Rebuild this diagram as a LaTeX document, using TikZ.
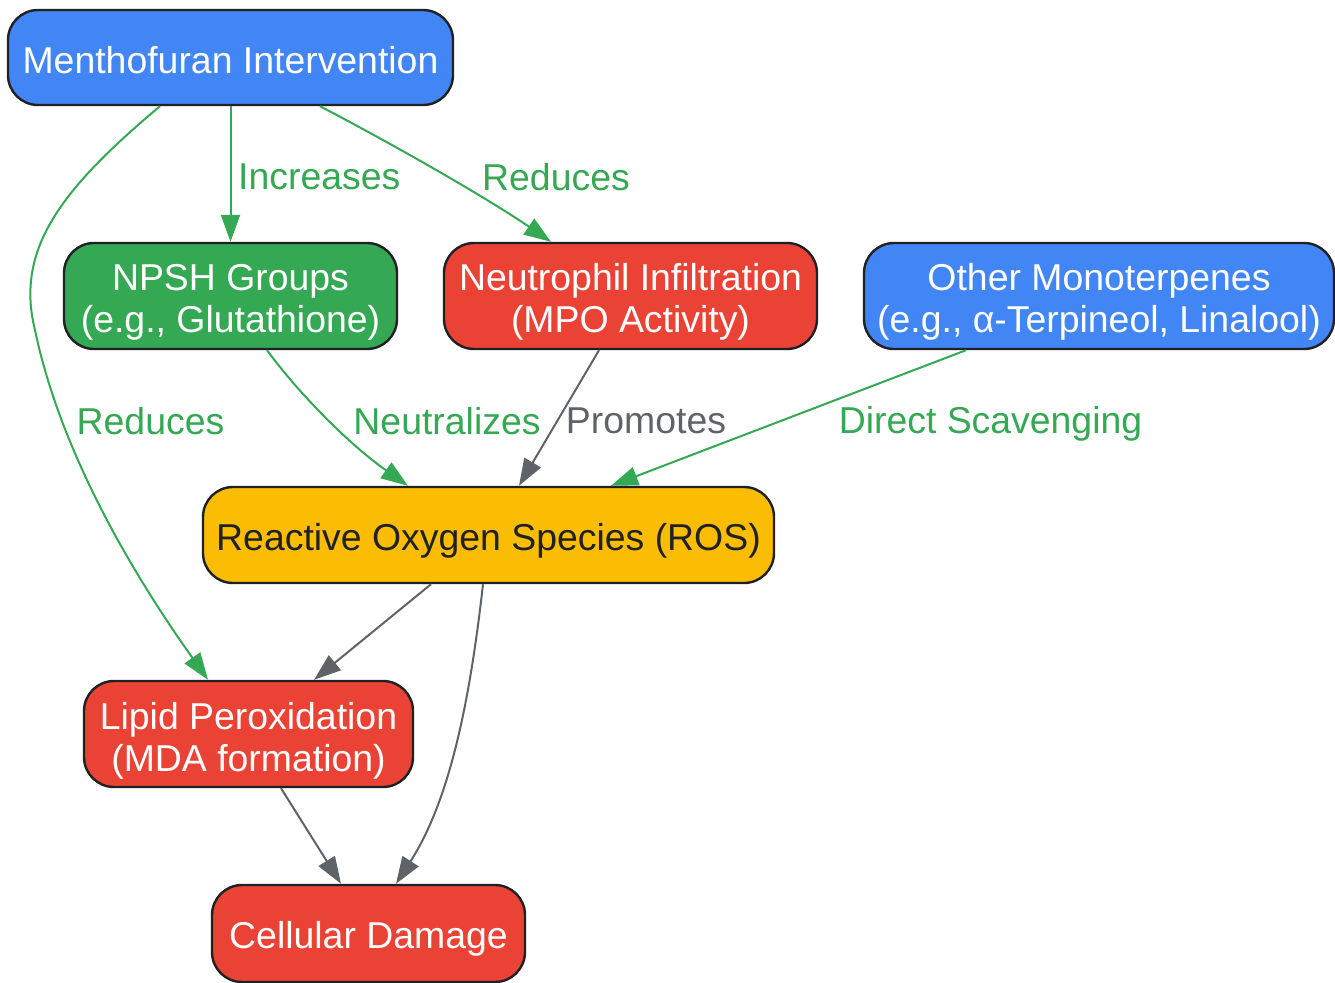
\documentclass[tikz,border=0pt]{standalone}
\usepackage{fontspec}
\setmainfont{Liberation Sans}
\usetikzlibrary{arrows.meta}
\definecolor{gblue}{HTML}{4285F4}
\definecolor{ggreen}{HTML}{34A853}
\definecolor{gred}{HTML}{EA4335}
\definecolor{gyellow}{HTML}{FBBC04}
\definecolor{ggray}{HTML}{5F6368}
\definecolor{gdark}{HTML}{202124}
\newcommand{\lowtx}[2]{\raisebox{-#1}[\height][\depth]{\begin{tabular}{@{}c@{}}#2\end{tabular}}}
\tikzset{
  box/.style={draw=gdark, line width=2.4pt, rounded corners=30pt, inner sep=0pt,
    align=center, font=\fontsize{37.4}{42}\selectfont, text=white},
  greenedge/.style={draw=ggreen, line width=2pt, -{Triangle[length=27pt,width=19pt]}},
  grayedge/.style={draw=ggray, line width=2pt, -{Triangle[length=27pt,width=19pt]}},
  elabel/.style={font=\fontsize{37.4}{42}\selectfont, inner sep=0pt},
}
\begin{document}
\begin{tikzpicture}[x=1pt,y=-1pt]
\useasboundingbox (0,0) rectangle (1335,982);
\node[box, fill=gblue, minimum width=445pt, minimum height=95pt] (mi) at (230.5,57.5) {\lowtx{8pt}{Menthofuran Intervention}};
\node[box, fill=ggreen, minimum width=333pt, minimum height=106pt] (npsh) at (230.5,296) {\lowtx{7pt}{NPSH Groups\\(e.g., Glutathione)}};
\node[box, fill=gred, minimum width=373pt, minimum height=106pt] (neu) at (630.5,296) {\lowtx{7pt}{Neutrophil Infiltration\\(MPO Activity)}};
\node[box, fill=gblue, minimum width=470pt, minimum height=106pt] (oth) at (1099,296) {\lowtx{7pt}{Other Monoterpenes\\(e.g., α-Terpineol, Linalool)}};
\node[box, fill=gyellow, text=gdark, minimum width=571pt, minimum height=96pt] (ros) at (488.5,535) {\lowtx{7pt}{Reactive Oxygen Species (ROS)}};
\node[box, fill=gred, minimum width=329pt, minimum height=106pt] (lip) at (248.5,734) {\lowtx{8pt}{Lipid Peroxidation\\(MDA formation)}};
\node[box, fill=gred, minimum width=313pt, minimum height=97pt] (cell) at (368.5,933.5) {\lowtx{7pt}{Cellular Damage}};

% edges
\draw[greenedge] (mi.south) -- (npsh.north);
\node[elabel, text=ggreen, anchor=west] (l1) at (238,177) {Increases};

\draw[greenedge] ([xshift=89.5pt]mi.south) .. controls (400,148) and (490,200) .. ([xshift=-79.5pt]neu.north);
\node[elabel, text=ggreen] (l2) at (556,177) {Reduces};

\draw[greenedge] ([xshift=-70.5pt]mi.south) .. controls (60,190) and (15,250) .. (35,330)
   .. controls (60,450) and (130,570) .. ([xshift=-40.5pt]lip.north);
\node[elabel, text=ggreen] (l3) at (150.5,421) {Reduces};

\draw[greenedge] ([xshift=36.5pt]npsh.south) .. controls (300,395) and (350,445) .. ([xshift=-80.5pt]ros.north);
\node[elabel, text=ggreen] (l4) at (447,421) {Neutralizes};

\draw[grayedge] ([xshift=-31.5pt]neu.south) -- ([xshift=30.5pt]ros.north);
\node[elabel, text=ggray] (l5) at (646,421) {Promotes};

\draw[greenedge] ([xshift=-133pt]oth.south) -- ([xshift=122.5pt]ros.north);
\node[elabel, text=ggreen] (l6) at (990.5,424) {Direct Scavenging};

\draw[grayedge] ([xshift=-57.5pt]ros.south) -- ([xshift=65.5pt]lip.north);
\draw[grayedge] ([xshift=-5.5pt]ros.south) .. controls (470,700) and (450,800) .. ([xshift=27.5pt]cell.north);
\draw[grayedge] ([xshift=32.5pt]lip.south) -- ([xshift=-27.5pt]cell.north);
\end{tikzpicture}
\end{document}
